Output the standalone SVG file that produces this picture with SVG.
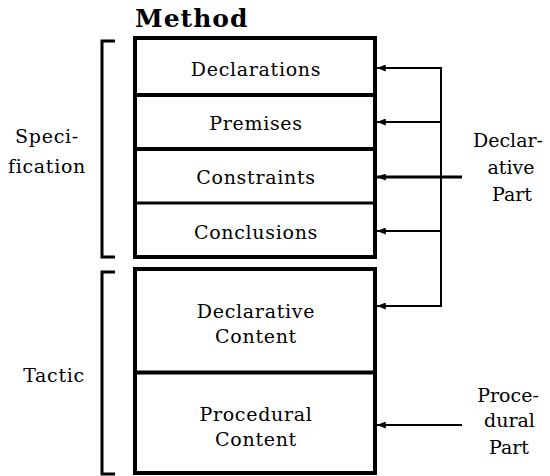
<svg xmlns="http://www.w3.org/2000/svg" width="550" height="476" viewBox="0 0 550 476">
<style>
text{font-family:'DejaVu Serif',serif;font-size:19px;letter-spacing:0.7px;fill:#000;text-anchor:middle}
.title{font-weight:bold;font-size:25px;letter-spacing:1px;text-anchor:start}
.r{letter-spacing:0}
.box{fill:#fff;stroke:#000;stroke-width:4}
.div{stroke:#000;stroke-width:4}
.br{fill:none;stroke:#000;stroke-width:3}
.c{fill:none;stroke:#000;stroke-width:2}
.ca{fill:none;stroke:#000;stroke-width:2;marker-end:url(#ah)}
</style>
<defs>
<marker id="ah" viewBox="0 0 10 8" refX="10" refY="4" markerUnits="userSpaceOnUse" markerWidth="9" markerHeight="7" orient="auto">
<path d="M0,0 L10,4 L0,8 Z" fill="#000"/>
</marker>
</defs>
<rect width="550" height="476" fill="#fff"/>
<text class="title" x="135" y="27">Method</text>
<g id="brackets">
<path class="br" d="M115,41 H102 V257 H115"/>
<path class="br" d="M115,272 H102 V474 H115"/>
</g>
<g id="specLabel"><text x="47" y="143">Speci-</text><text x="47" y="173">fication</text></g>
<g id="tacticLabel"><text x="54" y="382">Tactic</text></g>
<g id="method-spec">
<rect class="box" x="135" y="38" width="240" height="219"/>
<line class="div" x1="135" y1="95" x2="375" y2="95"/>
<line class="div" x1="135" y1="149" x2="375" y2="149"/>
<line class="div" x1="135" y1="203" x2="375" y2="203" style="stroke-width:3"/>
</g>
<g id="declarations"><text x="256" y="76">Declarations</text></g>
<g id="premises"><text x="256" y="130">Premises</text></g>
<g id="constraints"><text x="256" y="184">Constraints</text></g>
<g id="conclusions"><text x="256" y="239">Conclusions</text></g>
<g id="method-tactic">
<rect class="box" x="135" y="269" width="240" height="204"/>
<line class="div" x1="135" y1="372.5" x2="375" y2="372.5"/>
</g>
<g id="declContent"><text x="256" y="318">Declarative</text><text x="256" y="343">Content</text></g>
<g id="procContent"><text x="256" y="421">Procedural</text><text x="256" y="446">Content</text></g>
<g id="declPart"><text class="r" x="508" y="147">Declar-</text><text class="r" x="511" y="174">ative</text><text class="r" x="512" y="201">Part</text></g>
<g id="procPart"><text class="r" x="508" y="402">Proce-</text><text class="r" x="509.5" y="427">dural</text><text class="r" x="509" y="454">Part</text></g>
<g id="connectors">
<path class="c" d="M441,68 V307"/>
<path class="ca" d="M442,68 H377"/>
<path class="ca" d="M442,122 H377"/>
<path class="ca" d="M462,177 H377" style="stroke-width:3"/>
<path class="ca" d="M442,231 H377"/>
<path class="ca" d="M442,306 H377"/>
<path class="ca" d="M462,425 H377"/>
</g>
</svg>
